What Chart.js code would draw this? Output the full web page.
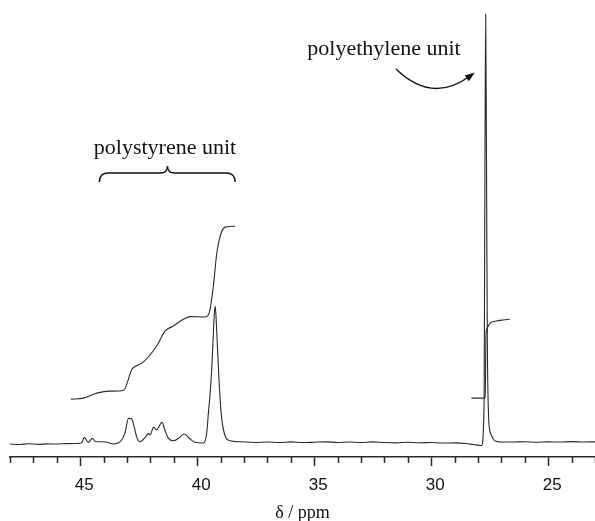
<!DOCTYPE html>
<html>
<head>
<meta charset="utf-8">
<script src="https://cdn.jsdelivr.net/npm/chart.js@4"></script>
<style>
  body { margin: 0; background: #fff; }
  canvas { display: block; }
</style>
</head>
<body>
<canvas id="nmr" width="595" height="521"></canvas>
<script>
// 13C NMR spectrum, chemical shift (ppm) vs intensity (arbitrary, baseline = 0)
const specPpm = [48.0, 47.6, 47.2, 46.8, 46.4, 46.0, 45.6, 45.2, 44.95, 44.82, 44.66, 44.47, 44.35, 44.2, 43.9, 43.58,
  43.29, 43.08, 42.94, 42.79, 42.72, 42.58, 42.44, 42.22, 42.08, 42.01, 41.87, 41.73, 41.51, 41.37, 41.23, 41.02,
  40.80, 40.56, 40.30, 40.09, 39.73, 39.59, 39.52, 39.45, 39.38, 39.32, 39.27, 39.23, 39.19, 39.13, 39.07, 39.02,
  38.95, 38.81, 38.60, 38.17, 37.5, 37.0, 36.5, 36.0, 35.5, 35.0, 34.5, 34.0, 33.5, 33.0, 32.5, 32.0, 31.5, 31.0,
  30.5, 30.0, 29.5, 29.0, 28.5, 28.2, 27.85, 27.74, 27.70, 27.67, 27.64, 27.60, 27.55, 27.50, 27.43, 27.35, 27.2,
  27.0, 26.5, 26.0, 25.5, 25.0, 24.5, 24.0, 23.5, 23.0];
const specInt = [0, -0.5, 0.3, -0.3, 0.2, 0, 0.4, 0.6, 1, 6.7, 1.7, 5.7, 2.5, 2.3, 2, 0,
  2.3, 11.7, 25.7, 25, 20, 6.7, 2.3, 6.7, 10.7, 9, 16.7, 14.3, 21.7, 13.3, 5.7, 3.3,
  5.7, 10, 5, 1.7, 1, 11.7, 31.7, 50, 75, 105, 130, 138, 125, 95, 65, 45,
  25, 8.3, 3.3, 2.3, 1.6, 2, 1.5, 2.2, 1.5, 1.8, 2.2, 1.6, 2, 1.5, 2.2, 1.5, 1.2, 1.8,
  1.3, 1.5, 1.0, 1.2, 0.5, -0.5, -1.5, 40, 300, 431, 300, 100, 30, 14, 9, 5, 2.5,
  2, 2, 2.3, 1.8, 2.2, 2.0, 2.4, 2.0, 2.2];

// integral traces
const psIntPpm = [45.40, 44.86, 44.29, 43.72, 43.15, 42.79, 42.72, 42.30, 41.73, 41.37, 41.02, 40.59, 40.30, 39.66,
  39.48, 39.31, 39.16, 38.95, 38.74, 38.38];
const psIntVal = [45, 46, 51, 53, 53.7, 75, 76.7, 82.3, 98.3, 113.3, 118.3, 125, 127.7, 127.3,
  132, 158.3, 191.7, 213.3, 217.7, 218.3];
const peIntPpm = [28.28, 27.78, 27.69, 27.66, 27.63, 27.49, 27.21, 26.93, 26.64];
const peIntVal = [46, 46, 47, 110, 115, 121, 123.3, 124.3, 125];

// axis
const xMin = 23, xMax = 48;
const yMin = -13, yMax = 445;

const pts = (xs, ys) => xs.map((x, i) => ({ x: x, y: ys[i] }));
const ink = '#2a2a2a';

const annotations = {
  id: 'annotations',
  afterDraw(chart) {
    const ctx = chart.ctx;
    const xs = chart.scales.x;
    const area = chart.chartArea;
    ctx.save();

    // minor ticks
    ctx.strokeStyle = ink;
    ctx.lineWidth = 1.5;
    xs.ticks.forEach(t => {
      if (t.value % 5 !== 0) {
        const px = Math.round(xs.getPixelForValue(t.value)) + 0.5;
        ctx.beginPath();
        ctx.moveTo(px, area.bottom);
        ctx.lineTo(px, area.bottom + 6);
        ctx.stroke();
      }
    });

    ctx.fillStyle = '#111';
    ctx.font = '22px "Liberation Serif", "Times New Roman", serif';
    ctx.textAlign = 'center';
    ctx.textBaseline = 'alphabetic';
    ctx.fillText('polystyrene unit', 165, 154);
    ctx.fillText('polyethylene unit', 384, 55);

    // brace over polystyrene region
    const x1 = xs.getPixelForValue(44.18);
    const x2 = xs.getPixelForValue(38.38);
    const xc = xs.getPixelForValue(41.27);
    const yb = 173;
    ctx.strokeStyle = '#111';
    ctx.lineWidth = 1.4;
    ctx.beginPath();
    ctx.moveTo(x1, yb + 9);
    ctx.quadraticCurveTo(x1, yb, x1 + 9, yb);
    ctx.lineTo(xc - 7, yb);
    ctx.quadraticCurveTo(xc, yb, xc, yb - 7);
    ctx.quadraticCurveTo(xc, yb, xc + 7, yb);
    ctx.lineTo(x2 - 9, yb);
    ctx.quadraticCurveTo(x2, yb, x2, yb + 9);
    ctx.stroke();

    // curved arrow toward polyethylene peak
    const sx = 396, sy = 69, cx = 432, cy = 104, ex = 470, ey = 76;
    ctx.beginPath();
    ctx.moveTo(sx, sy);
    ctx.quadraticCurveTo(cx, cy, ex, ey);
    ctx.stroke();
    const ang = Math.atan2(ey - cy, ex - cx);
    ctx.beginPath();
    ctx.moveTo(ex + 6 * Math.cos(ang), ey + 6 * Math.sin(ang));
    ctx.lineTo(ex - 4 * Math.cos(ang) + 3.5 * Math.sin(ang), ey - 4 * Math.sin(ang) - 3.5 * Math.cos(ang));
    ctx.lineTo(ex - 4 * Math.cos(ang) - 3.5 * Math.sin(ang), ey - 4 * Math.sin(ang) + 3.5 * Math.cos(ang));
    ctx.closePath();
    ctx.fill();
    ctx.restore();
  }
};

new Chart(document.getElementById('nmr'), {
  type: 'line',
  data: {
    datasets: [
      { data: pts(specPpm, specInt), borderColor: ink, borderWidth: 1.1, pointRadius: 0, cubicInterpolationMode: 'monotone' },
      { data: pts(psIntPpm, psIntVal), borderColor: ink, borderWidth: 1.1, pointRadius: 0, cubicInterpolationMode: 'monotone' },
      { data: pts(peIntPpm, peIntVal), borderColor: ink, borderWidth: 1.1, pointRadius: 0, cubicInterpolationMode: 'monotone' }
    ]
  },
  options: {
    responsive: false,
    animation: false,
    layout: { autoPadding: false, padding: { left: 10, right: 0, top: 0, bottom: -3 } },
    plugins: { legend: { display: false }, tooltip: { enabled: false } },
    scales: {
      x: {
        type: 'linear',
        min: xMin,
        max: xMax,
        reverse: true,
        afterFit: s => { s.paddingLeft = 0; s.paddingRight = 0; },
        border: { display: true, color: ink, width: 1.5 },
        grid: {
          drawOnChartArea: false,
          drawTicks: true,
          tickLength: 9,
          tickWidth: 1.5,
          tickColor: ctx => (ctx.tick && ctx.tick.value % 5 === 0) ? ink : 'rgba(0,0,0,0)'
        },
        ticks: {
          stepSize: 1,
          includeBounds: false,
          autoSkip: false,
          maxRotation: 0,
          padding: 9,
          labelOffset: 4,
          color: '#111',
          font: { family: '"Liberation Sans", Arial, sans-serif', size: 17 },
          callback: v => (v % 5 === 0 ? String(v) : '')
        },
        title: {
          display: true,
          text: 'δ / ppm',
          color: '#111',
          font: { family: '"Liberation Serif", "Times New Roman", serif', size: 18 },
          padding: { top: -2, bottom: 0 }
        }
      },
      y: { display: false, min: yMin, max: yMax }
    }
  },
  plugins: [annotations]
});
</script>
</body>
</html>
